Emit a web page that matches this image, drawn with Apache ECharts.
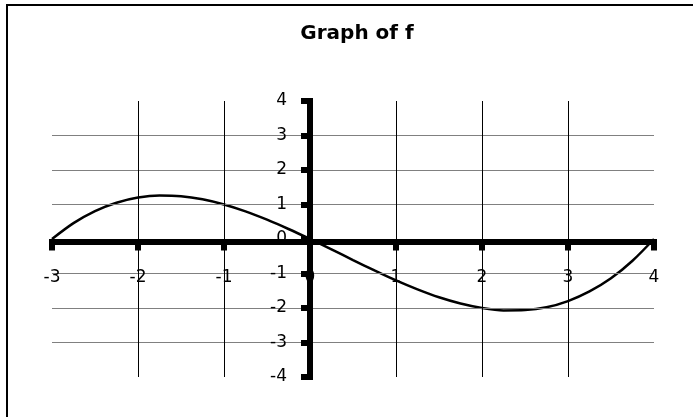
<!DOCTYPE html>
<html>
<head>
<meta charset="utf-8">
<script src="https://cdn.jsdelivr.net/npm/echarts@6/dist/echarts.min.js"></script>
<style>
html,body{margin:0;padding:0;background:#fff;}
#c{width:693px;height:417px;}
</style>
</head>
<body>
<div id="c"></div>
<script>
// Data
var xValues = [-3, -2.75, -2.5, -2.25, -2, -1.75, -1.5, -1.25, -1, -0.75, -0.5, -0.25, 0,
               0.25, 0.5, 0.75, 1, 1.25, 1.5, 1.75, 2, 2.25, 2.5, 2.75, 3, 3.25, 3.5, 3.75, 4];
var fValues = [0, 0.46, 0.81, 1.05, 1.2, 1.26, 1.24, 1.15, 1.0, 0.8, 0.56, 0.29, 0,
               -0.3, -0.61, -0.91, -1.2, -1.46, -1.69, -1.87, -2.0, -2.07, -2.06, -1.98, -1.8, -1.52, -1.14, -0.63, 0];
var titleText = 'Graph of f';
var xRange = [-3, 4];
var yRange = [-4, 4];

var points = xValues.map(function (x, i) { return [x, fValues[i]]; });

var chart = echarts.init(document.getElementById('c'), null, {renderer: 'canvas'});
var labelFont = {fontFamily: 'DejaVu Sans', fontSize: 17, color: '#000'};
chart.setOption({
  animation: false,
  backgroundColor: '#fff',
  title: {
    text: titleText,
    left: 352,
    top: 19,
    textAlign: 'center',
    textStyle: {fontFamily: 'DejaVu Sans', fontWeight: 'bold', fontSize: 20, color: '#000'}
  },
  graphic: [{
    type: 'rect',
    shape: {x: 7, y: 5, width: 720, height: 440},
    style: {fill: 'none', stroke: '#000', lineWidth: 2},
    silent: true,
    z: -1
  }],
  grid: {left: 52, right: 39, top: 101, bottom: 40, containLabel: false},
  xAxis: {
    type: 'value',
    position: 'bottom',
    min: xRange[0], max: xRange[1], interval: 1,
    axisLine: {onZero: false, lineStyle: {color: '#000', width: 6, cap: 'square'}},
    axisTick: {show: true, length: 9, lineStyle: {color: '#000', width: 6}},
    axisLabel: Object.assign({margin: 28}, labelFont),
    splitLine: {show: true, showMinLine: false, showMaxLine: false, lineStyle: {color: '#000', width: 1}},
    z: 4
  },
  yAxis: {
    type: 'value',
    position: 'left',
    min: yRange[0], max: yRange[1], interval: 1,
    axisLine: {onZero: false, lineStyle: {color: '#000', width: 6, cap: 'square'}},
    axisTick: {show: true, length: 9, lineStyle: {color: '#000', width: 6}},
    axisLabel: Object.assign({margin: 23}, labelFont),
    splitLine: {show: true, showMinLine: false, showMaxLine: false, lineStyle: {color: '#808080', width: 1}},
    z: 4
  },
  series: [{
    type: 'line',
    data: points,
    smooth: 0.3,
    showSymbol: false,
    lineStyle: {color: '#000', width: 2.5},
    z: 3
  }]
});

// Move both axes (with their labels) onto the origin, using the library's scales
var origin = chart.convertToPixel({gridIndex: 0}, [0, 0]);
var corner = chart.convertToPixel({gridIndex: 0}, [xRange[0], yRange[0]]);
chart.setOption({
  xAxis: {offset: -(corner[1] - origin[1])},
  yAxis: {offset: -(origin[0] - corner[0])}
});
</script>
</body>
</html>
